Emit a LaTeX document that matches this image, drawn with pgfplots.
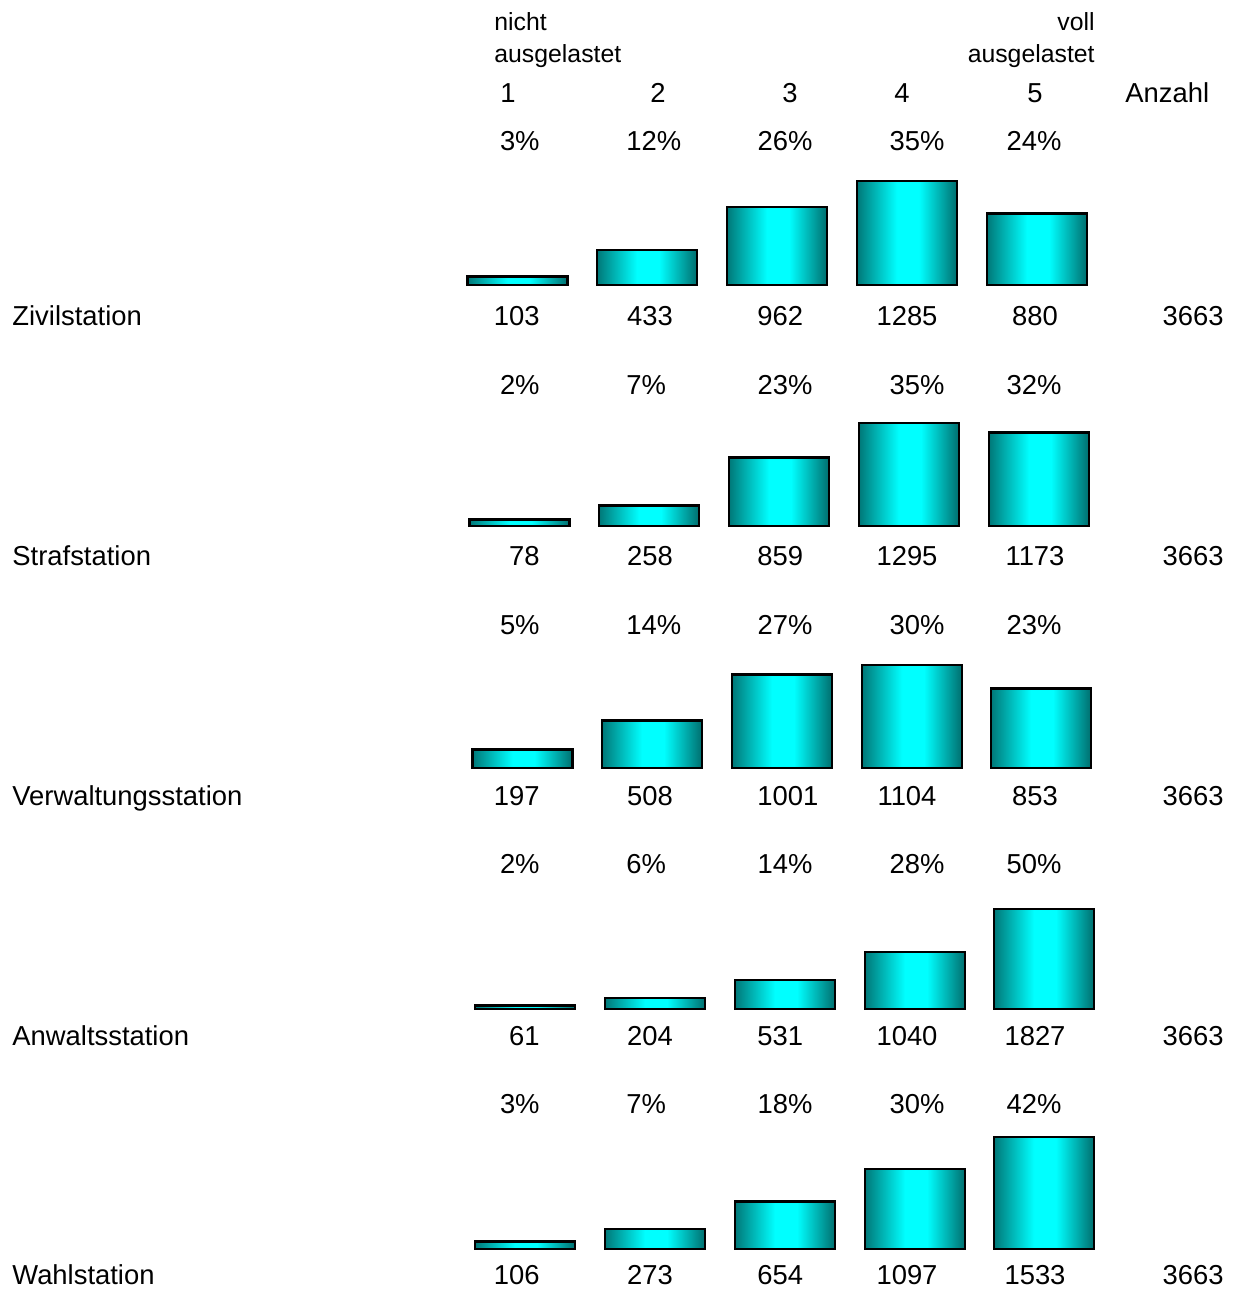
\documentclass[border=0pt]{standalone}
\usepackage{fontspec}
\setmainfont{Liberation Sans}
\usepackage{pgfplots}
\pgfplotsset{compat=1.18}
\definecolor{tdark}{RGB}{0,120,120}
\definecolor{tdarkr}{RGB}{0,110,110}
\definecolor{tcyan}{RGB}{0,255,255}
\pgfdeclarehorizontalshading{barshade}{100bp}{color(0bp)=(tdark); color(25bp)=(tdark); color(45bp)=(tcyan); color(56bp)=(tcyan); color(75bp)=(tdarkr); color(100bp)=(tdarkr)}
\pgfplotsset{rowbars/.style={scale only axis, width=620.5pt, height=65pt, xmin=0, xmax=1241, ymin=0, hide axis, clip=false, anchor=south west}}
\tikzset{bars/.style={ybar, bar width=100, bar shift=0pt, draw=black, line width=1.3pt, shading=barshade},
  lab/.style={inner sep=0pt, font=\fontsize{13.7}{16}\selectfont},
  sm/.style={inner sep=0pt, font=\fontsize{12.4}{15}\selectfont}}
\newcommand{\T}[4]{\node[lab, anchor=#1] at (axis cs:#2,#3) {#4};}
\newcommand{\B}[2]{\addplot[bars] coordinates {(#1,#2)};}
\newcommand{\Pct}[6]{%
  \T{base east}{540}{#1}{#2\%}
  \T{base west}{626}{#1}{#3\%}
  \T{base}{785}{#1}{#4\%}
  \T{base}{917}{#1}{#5\%}
  \T{base}{1034}{#1}{#6\%}}
\newcommand{\Val}[7]{%
  \T{base west}{12}{#1}{#2}
  \T{base east}{540}{#1}{#3}
  \T{base}{650}{#1}{#4}
  \T{base west}{757}{#1}{#5}
  \T{base}{907}{#1}{#6}
  \T{base}{1035}{#1}{#7}
  \T{base east}{1224}{#1}{3663}}
\begin{document}
\begin{tikzpicture}
% row 1: Zivilstation
\begin{axis}[rowbars, at={(0,502pt)}, ymax=1606]
\B{517.5}{103} \B{647}{433} \B{777}{962} \B{907}{1285} \B{1037}{880}
\end{axis}
% row 2: Strafstation
\begin{axis}[rowbars, at={(0,381.5pt)}, ymax=1634]
\B{519.5}{78} \B{649}{258} \B{779}{859} \B{909}{1295} \B{1039}{1173}
\end{axis}
% row 3: Verwaltungsstation
\begin{axis}[rowbars, at={(0,260.5pt)}, ymax=1393]
\B{522.5}{197} \B{652}{508} \B{782}{1001} \B{912}{1104} \B{1041}{853}
\end{axis}
% row 4: Anwaltsstation
\begin{axis}[rowbars, at={(0,140pt)}, ymax=2375]
\B{525}{61} \B{655}{204} \B{785}{531} \B{915}{1040} \B{1044}{1827}
\end{axis}
% row 5: Wahlstation
\begin{axis}[rowbars, at={(0,20pt)}, ymax=1779]
\B{525}{106} \B{655}{273} \B{785}{654} \B{915}{1097} \B{1044}{1533}
\end{axis}
% text frame
\begin{axis}[name=frame, at={(0,0)}, anchor=south west, scale only axis, width=620.5pt, height=644.5pt,
  xmin=0, xmax=1241, ymin=0, ymax=1289, y dir=reverse, hide axis, clip=false]
\path (axis cs:0,0) rectangle (axis cs:1241,1289);
\node[sm, anchor=base west] at (axis cs:494,31) {nicht};
\node[sm, anchor=base west] at (axis cs:494,63) {ausgelastet};
\node[sm, anchor=base east] at (axis cs:1095,31) {voll};
\node[sm, anchor=base east] at (axis cs:1095,63) {ausgelastet};
\T{base}{508}{102.5}{1}
\T{base}{658}{102.5}{2}
\T{base}{790}{102.5}{3}
\T{base}{902}{102.5}{4}
\T{base}{1035}{102.5}{5}
\T{base west}{1125}{102.5}{Anzahl}
\Pct{150.5}{3}{12}{26}{35}{24}
\Pct{394.5}{2}{7}{23}{35}{32}
\Pct{634.5}{5}{14}{27}{30}{23}
\Pct{873.5}{2}{6}{14}{28}{50}
\Pct{1113.5}{3}{7}{18}{30}{42}
\Val{325.5}{Zivilstation}{103}{433}{962}{1285}{880}
\Val{565.5}{Strafstation}{78}{258}{859}{1295}{1173}
\Val{805.5}{Verwaltungsstation}{197}{508}{1001}{1104}{853}
\Val{1045.5}{Anwaltsstation}{61}{204}{531}{1040}{1827}
\Val{1284.5}{Wahlstation}{106}{273}{654}{1097}{1533}
\end{axis}
\end{tikzpicture}
\end{document}
